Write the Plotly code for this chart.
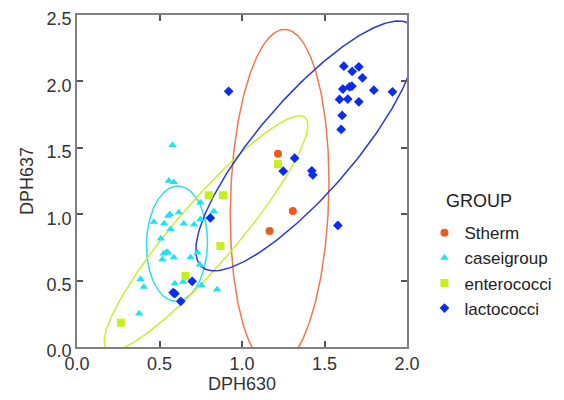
import numpy as np
import plotly.graph_objects as go

# ---- data ----
stherm_x = [1.218, 1.308, 1.167]
stherm_y = [1.455, 1.025, 0.874]

casei_x = [0.579, 0.557, 0.587, 0.748, 0.563, 0.553, 0.617, 0.829, 0.466, 0.528,
           0.647, 0.710, 0.748, 0.567, 0.508, 0.543, 0.552, 0.526, 0.518, 0.587,
           0.688, 0.730, 0.744, 0.385, 0.405, 0.593, 0.643, 0.754, 0.849, 0.377]
casei_y = [1.520, 1.251, 1.241, 1.088, 1.000, 0.987, 1.013, 1.023, 0.942, 0.930,
           0.930, 0.922, 0.962, 0.887, 0.817, 0.716, 0.709, 0.704, 0.659, 0.674,
           0.674, 0.711, 0.621, 0.510, 0.452, 0.478, 0.490, 0.465, 0.433, 0.252]

entero_x = [1.218, 0.798, 0.885, 0.869, 0.657, 0.266]
entero_y = [1.377, 1.143, 1.143, 0.761, 0.535, 0.183]

lacto_x = [0.919, 1.617, 1.668, 1.708, 1.730, 1.611, 1.652, 1.666, 1.799, 1.912,
           1.591, 1.641, 1.708, 1.607, 1.601, 1.581, 1.319, 1.250, 1.423, 1.429,
           0.808, 0.698, 0.583, 0.593, 0.629]
lacto_y = [1.925, 2.115, 2.075, 2.110, 2.027, 1.942, 1.959, 1.964, 1.934, 1.922,
           1.864, 1.867, 1.846, 1.744, 1.638, 0.915, 1.422, 1.324, 1.327, 1.296,
           0.972, 0.495, 0.410, 0.402, 0.344]

groups = ["Stherm", "caseigroup", "enterococci", "lactococci"]
# ellipse parameters: center x, center y, half-width, half-height, correlation
ell_cx = [1.228, 0.606, 0.782, 1.390]
ell_cy = [1.118, 0.778, 0.857, 1.514]
ell_w = [0.299, 0.185, 0.617, 0.670]
ell_h = [1.274, 0.434, 0.884, 0.941]
ell_r = [0.10, 0.03, 0.92, 0.835]

marker_colors = ["#EE5A1E", "#1EE3F0", "#C6F01A", "#0A2CF0"]
line_colors = ["#F0784A", "#2EDDEE", "#C8EE30", "#2A3AD8"]
symbols = ["circle", "triangle-up", "square", "diamond"]
sizes = [8, 7.5, 8, 7.5]
xs = [stherm_x, casei_x, entero_x, lacto_x]
ys = [stherm_y, casei_y, entero_y, lacto_y]

FONT = "Liberation Sans, Arial, sans-serif"
# page has an 8px body margin; size the figure so it fits the 564x400 window
OFF = 8
W, H = 564 - OFF, 400 - OFF
ML, MT = 77 - OFF, 15 - OFF
MR = W - (407.5 - OFF)
MB = H - (346.7 - OFF)
PW, PH = W - ML - MR, H - MT - MB


def px_x(sx):  # screen x -> paper x
    return (sx - OFF - ML) / PW


def px_y(sy):  # screen y -> paper y
    return (H - MB - (sy - OFF)) / PH


fig = go.Figure()

t = np.linspace(0, 2 * np.pi, 361)
for i in range(4):
    u = np.cos(t)
    v = ell_r[i] * np.cos(t) + np.sqrt(1 - ell_r[i] ** 2) * np.sin(t)
    fig.add_trace(go.Scatter(
        x=ell_cx[i] + ell_w[i] * u, y=ell_cy[i] + ell_h[i] * v,
        mode="lines", line=dict(color=line_colors[i], width=1.5),
        showlegend=False, hoverinfo="skip"))

for i in range(4):
    fig.add_trace(go.Scatter(
        x=xs[i], y=ys[i], mode="markers", name=groups[i],
        marker=dict(symbol=symbols[i], color=marker_colors[i], size=sizes[i],
                    line=dict(width=0)),
        cliponaxis=False))

axis_common = dict(
    showgrid=False, zeroline=False, showline=True, linecolor="#808080",
    linewidth=1.5, mirror="allticks", ticks="inside", ticklen=6,
    tickcolor="#555555", tickwidth=1.5, dtick=0.5, tickformat=".1f",
    tickfont=dict(family=FONT, size=18, color="#333333"),
    automargin=False, ticklabeloverflow="allow",
)

fig.update_xaxes(range=[0, 2.0], title=dict(text="DPH630", standoff=0,
                 font=dict(family=FONT, size=18, color="#333333")),
                 **axis_common)
fig.update_yaxes(range=[0, 2.5], title=dict(text="DPH637", standoff=8,
                 font=dict(family=FONT, size=18, color="#333333")),
                 ticklabelshift=4, **axis_common)

fig.update_layout(
    width=W, height=H,
    margin=dict(l=ML, r=MR, t=MT, b=MB, pad=0, autoexpand=False),
    plot_bgcolor="white", paper_bgcolor="white",
    legend=dict(
        font=dict(family=FONT, size=17, color="#222222"),
        x=px_x(425), y=px_y(215), xanchor="left", yanchor="top",
        itemwidth=30, tracegroupgap=0,
    ),
    annotations=[dict(
        text="GROUP", x=px_x(445), y=px_y(200.5),
        xref="paper", yref="paper", xanchor="left", yanchor="middle",
        showarrow=False,
        font=dict(family=FONT, size=18, color="#222222"),
    )],
)

fig.write_html("out.html")
